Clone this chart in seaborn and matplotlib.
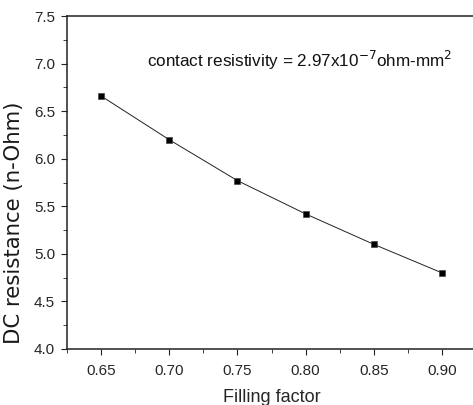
import numpy as np
import pandas as pd
import seaborn as sns
import matplotlib.pyplot as plt
from matplotlib.ticker import MultipleLocator

# data
filling = [0.65, 0.70, 0.75, 0.80, 0.85, 0.90]
resistance = [6.66, 6.20, 5.77, 5.42, 5.10, 4.80]

df = pd.DataFrame({'Filling factor': filling, 'DC resistance': resistance})

sns.set_style('ticks')
plt.rcParams['font.family'] = ['Liberation Sans', 'DejaVu Sans']

fig = plt.figure(figsize=(4.73, 4.05), dpi=100)
ax = fig.add_axes([0.1416, 0.1383, 0.865, 0.822])

sns.lineplot(data=df, x='Filling factor', y='DC resistance', ax=ax,
             color='#222222', lw=0.7, marker='s', markersize=4,
             markerfacecolor='black', markeredgecolor='#444444', markeredgewidth=0.5)

ax.set_xlim(0.625, 0.925)
ax.set_ylim(4.0, 7.5)
ax.xaxis.set_major_locator(MultipleLocator(0.05))
ax.xaxis.set_minor_locator(MultipleLocator(0.025))
ax.yaxis.set_major_locator(MultipleLocator(0.5))
ax.yaxis.set_minor_locator(MultipleLocator(0.25))
ax.xaxis.set_major_formatter(plt.FormatStrFormatter('%.2f'))
ax.yaxis.set_major_formatter(plt.FormatStrFormatter('%.1f'))
ax.tick_params(which='major', direction='out', length=4.5, width=0.8, labelsize=11, color='#222222')
ax.tick_params(axis='x', which='major', pad=6)
ax.tick_params(axis='y', which='major', pad=4)
ax.tick_params(which='minor', direction='out', length=3, width=0.6, color='#222222')

ax.spines['right'].set_visible(False)
for s in ['left', 'bottom', 'top']:
    ax.spines[s].set_color('#222222')
    ax.spines[s].set_linewidth(1.1)

ax.set_xlabel('Filling factor', fontsize=13, labelpad=8)
ax.set_ylabel('DC resistance (n-Ohm)', fontsize=15.3, family='DejaVu Sans',
              color='#1a1a1a')
ax.yaxis.set_label_coords(-0.105, 0.378)

ax.text(0.6835, 7.03, 'contact resistivity = 2.97x10$^{-7}$ohm-mm$^{2}$',
        fontsize=12.3, va='center', ha='left', color='#111111')

fig.savefig('out.png', dpi=100)
